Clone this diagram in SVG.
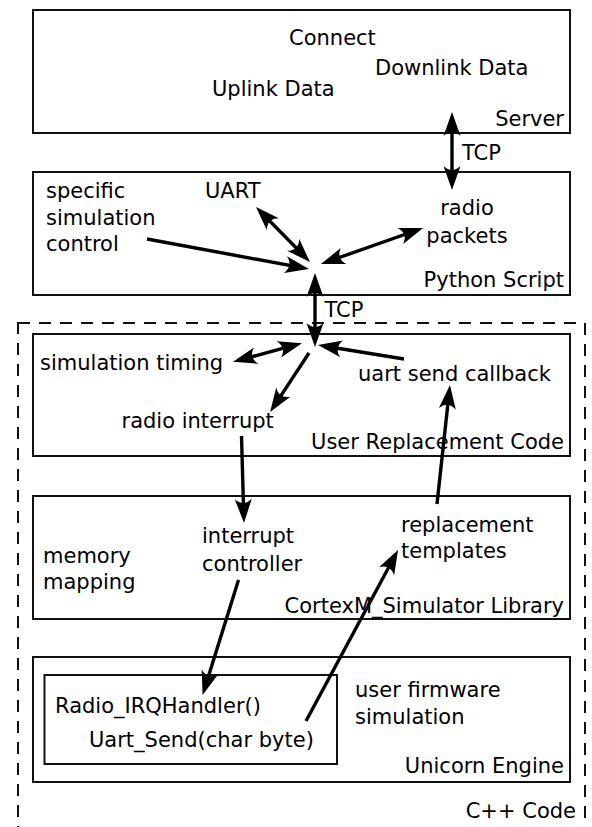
<svg xmlns="http://www.w3.org/2000/svg" width="592" height="827" viewBox="0 0 592 827">
<style>
.box{fill:none;stroke:#111;stroke-width:2}
.dash{fill:none;stroke:#111;stroke-width:2;stroke-dasharray:12,9}
.t{font-family:"DejaVu Sans",sans-serif;font-size:21px;fill:#000}
.r{text-anchor:end}
.m{text-anchor:middle}
.c{fill:none;stroke:#000;stroke-width:3.4;stroke-linecap:butt}
</style>
<defs>
<marker id="ah" markerUnits="userSpaceOnUse" orient="auto-start-reverse" refX="0" refY="0" markerWidth="50" markerHeight="50" viewBox="-25 -25 50 50" overflow="visible">
<path d="M6,0 L-18,-8.5 Q-10,0 -18,8.5 Z" fill="#000"/>
</marker>
</defs>
<rect width="592" height="827" fill="#fff"/>
<g id="cpp">
<rect class="dash" x="18" y="323" width="567" height="520"/>
<text class="t r" x="576" y="818">C++ Code</text>
</g>
<g id="server">
<rect class="box" x="33" y="10" width="537" height="123"/>
<text class="t" x="289" y="45">Connect</text>
<text class="t" x="375" y="75">Downlink Data</text>
<text class="t" x="212" y="96">Uplink Data</text>
<text class="t r" x="564" y="126">Server</text>
</g>
<g id="python">
<rect class="box" x="33" y="172" width="537" height="123"/>
<text class="t" x="46" y="198">specific</text>
<text class="t" x="46" y="225">simulation</text>
<text class="t" x="46" y="251">control</text>
<text class="t" x="205" y="198">UART</text>
<text class="t m" x="467" y="215">radio</text>
<text class="t m" x="467" y="243">packets</text>
<text class="t r" x="564" y="287">Python Script</text>
</g>
<g id="urc">
<rect class="box" x="33" y="334" width="537" height="122"/>
<text class="t" x="40" y="370">simulation timing</text>
<text class="t" x="358" y="381">uart send callback</text>
<text class="t" x="121.5" y="428">radio interrupt</text>
<text class="t r" x="564" y="449">User Replacement Code</text>
</g>
<g id="cortexm">
<rect class="box" x="33" y="496" width="537" height="123"/>
<text class="t" x="43" y="563">memory</text>
<text class="t" x="43" y="589">mapping</text>
<text class="t" x="202" y="543">interrupt</text>
<text class="t" x="202" y="571">controller</text>
<text class="t" x="401" y="532">replacement</text>
<text class="t" x="401" y="558">templates</text>
<text class="t r" x="564" y="613">CortexM_Simulator Library</text>
</g>
<g id="unicorn">
<rect class="box" x="33" y="657" width="537" height="125"/>
<text class="t" x="355" y="697">user firmware</text>
<text class="t" x="355" y="724">simulation</text>
<text class="t r" x="564" y="773">Unicorn Engine</text>
</g>
<g id="firmware">
<rect class="box" x="44.5" y="675" width="292.5" height="89"/>
<text class="t" x="55" y="713">Radio_IRQHandler()</text>
<text class="t" x="89" y="747">Uart_Send(char byte)</text>
</g>
<g id="connectors">
<line class="c" x1="452" y1="118" x2="452" y2="184" marker-start="url(#ah)" marker-end="url(#ah)"/>
<text class="t" x="462" y="160">TCP</text>
<line class="c" x1="315" y1="279" x2="315" y2="341" marker-start="url(#ah)" marker-end="url(#ah)"/>
<text class="t" x="324.5" y="317">TCP</text>
<line class="c" x1="147" y1="239" x2="303.1" y2="267.9" marker-end="url(#ah)"/>
<line class="c" x1="260.2" y1="211.3" x2="305.8" y2="257.7" marker-start="url(#ah)" marker-end="url(#ah)"/>
<line class="c" x1="417.4" y1="230" x2="326.6" y2="262" marker-start="url(#ah)" marker-end="url(#ah)"/>
<line class="c" x1="238.8" y1="360.3" x2="296.2" y2="344.7" marker-start="url(#ah)" marker-end="url(#ah)"/>
<line class="c" x1="404" y1="359" x2="323.9" y2="346" marker-end="url(#ah)"/>
<line class="c" x1="309" y1="353" x2="273.4" y2="407.1" marker-end="url(#ah)"/>
<line class="c" x1="241.5" y1="436" x2="243.8" y2="517" marker-end="url(#ah)"/>
<line class="c" x1="437" y1="504" x2="449.3" y2="391" marker-end="url(#ah)"/>
<line class="c" x1="238.5" y1="580" x2="204.4" y2="689.3" marker-end="url(#ah)"/>
<line class="c" x1="306" y1="721" x2="395.2" y2="555.3" marker-end="url(#ah)"/>
</g>
</svg>
